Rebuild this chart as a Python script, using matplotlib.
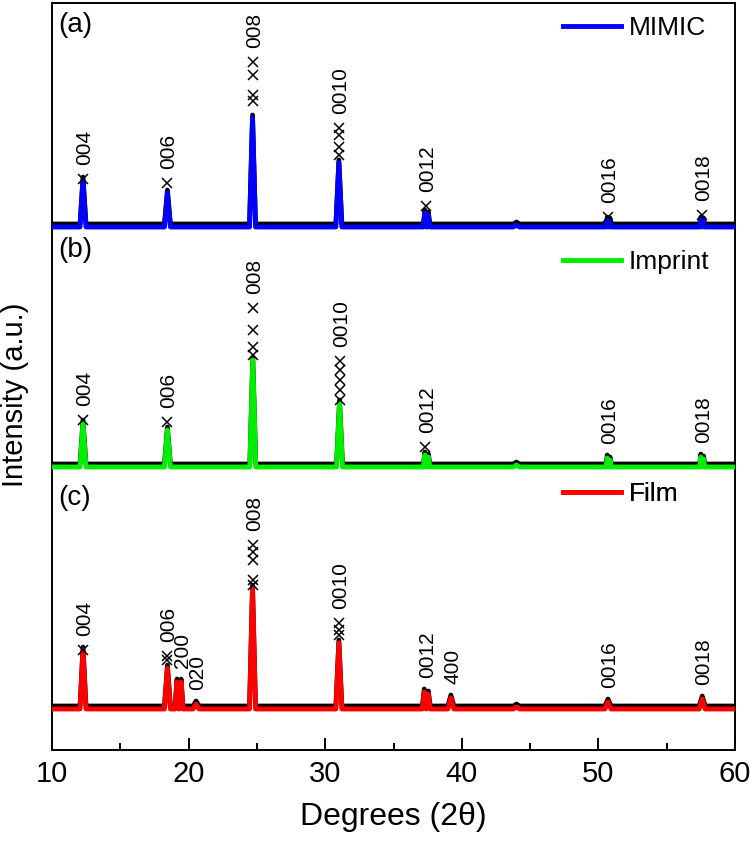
import matplotlib.pyplot as plt

plt.rcParams['font.family'] = ['Liberation Sans', 'DejaVu Sans']

display_graph = False

# sample names, panel tags, fit colours and vertical offsets (a.u.)
samples = ['MIMIC', 'Imprint', 'Film']
panel_tags = ['(a)', '(b)', '(c)']
fit_colors = ['#0000ff', '#00ee00', '#ff0000']
offsets = [523, 283, 41]

# peak positions (2theta) and fitted heights above the offset
mimic_pos = [12.27, 18.45, 24.68, 31.0, 37.3, 37.55, 44.0, 50.65, 50.85, 57.5, 57.7]
mimic_fit = [47, 34, 109, 64, 14, 12, 2, 7, 6, 7, 6]
imprint_pos = [12.27, 18.45, 24.7, 31.05, 37.3, 37.55, 44.0, 50.65, 50.85, 57.5, 57.7]
imprint_fit = [44, 37, 107, 64, 12, 10, 2, 9, 7, 10, 8]
film_pos = [12.27, 18.45, 19.15, 19.45, 20.55, 24.68, 31.0, 37.25, 37.55, 39.2, 44.0, 50.7, 57.6]
film_fit = [59, 41, 27, 27, 5, 121, 66, 17, 15, 11, 2, 7, 10]

# measured points sticking out above the fit (x markers)
mimic_obs_x = [12.27, 18.45, 24.68, 24.68, 24.68, 24.7, 31.0, 31.0, 31.0, 31.0, 37.35, 50.7, 57.55]
mimic_obs_y = [48, 44, 165, 152, 132, 126, 99, 92, 80, 72, 21, 10, 12]
imprint_obs_x = [12.27, 18.45, 24.7, 24.7, 24.7, 24.7, 31.05, 31.05, 31.05, 31.05, 31.05, 37.3]
imprint_obs_y = [47, 45, 112, 120, 137, 159, 67, 77, 87, 97, 106, 20]
film_obs_x = [12.27, 18.45, 18.45, 24.68, 24.68, 24.68, 24.68, 24.68, 31.0, 31.0, 31.0]
film_obs_y = [59, 49, 53, 124, 129, 149, 157, 164, 74, 79, 86]

# reflection labels
mimic_hkl = ['004', '006', '008', '0010', '0012', '0016', '0018']
mimic_hkl_pos = [12.27, 18.45, 24.68, 31.0, 37.4, 50.7, 57.6]
imprint_hkl = ['004', '006', '008', '0010', '0012', '0016', '0018']
imprint_hkl_pos = [12.27, 18.45, 24.7, 31.05, 37.4, 50.7, 57.6]
film_hkl = ['004', '006', '200', '020', '008', '0010', '0012', '400', '0016', '0018']
film_hkl_pos = [12.27, 18.45, 19.45, 20.55, 24.68, 31.0, 37.4, 39.2, 50.7, 57.6]

all_pos = [mimic_pos, imprint_pos, film_pos]
all_fit = [mimic_fit, imprint_fit, film_fit]
all_obs_x = [mimic_obs_x, imprint_obs_x, film_obs_x]
all_obs_y = [mimic_obs_y, imprint_obs_y, film_obs_y]
all_hkl = [mimic_hkl, imprint_hkl, film_hkl]
all_hkl_pos = [mimic_hkl_pos, imprint_hkl_pos, film_hkl_pos]


def peak_outline(pos, heights, offset, half_width=0.22):
    # polyline through baseline / top / baseline for each peak
    xs = [10.0]
    ys = [offset]
    for i, (p, h) in enumerate(zip(pos, heights)):
        w = half_width
        if i > 0:
            w = min(w, (p - pos[i - 1]) / 2 - 0.01)
        if i < len(pos) - 1:
            w = min(w, (pos[i + 1] - p) / 2 - 0.01)
        xs += [p - w, p, p + w]
        ys += [offset, offset + h, offset]
    xs.append(60.0)
    ys.append(offset)
    return xs, ys


fig = plt.figure(figsize=(7.5, 8.44), dpi=100)
ax = fig.add_axes([52 / 750, 94 / 844, 683 / 750, 747 / 844])

legend_y = [0.9665, 0.6533, 0.3427]
tag_y = [0.9705, 0.6693, 0.3373]

for k in range(3):
    off = offsets[k]
    xs, ys = peak_outline(all_pos[k], all_fit[k], off)
    ax.plot(xs, [y + 3 for y in ys], color='black', lw=3.4, zorder=2)
    line, = ax.plot(xs, ys, color=fit_colors[k], lw=3.5, zorder=3)
    ax.plot(all_obs_x[k], [off + y for y in all_obs_y[k]], 'x', color='black',
            ms=7, mew=1.1, zorder=4)

    for lab, p in zip(all_hkl[k], all_hkl_pos[k]):
        tops = [h for q, h in zip(all_pos[k], all_fit[k]) if abs(q - p) < 0.3]
        tops += [h for q, h in zip(all_obs_x[k], all_obs_y[k]) if abs(q - p) < 0.3]
        top = max(tops) if tops else 0
        ax.text(p + 0.12, off + top + 14, lab, rotation=90, ha='center', va='bottom',
                fontsize=15)

    leg = ax.legend([line], [samples[k]], loc='center left',
                    bbox_to_anchor=(0.748, legend_y[k]), frameon=False,
                    fontsize=19, handlelength=2.2, handletextpad=0.3,
                    borderpad=0, borderaxespad=0)
    ax.add_artist(leg)
    ax.text(0.009, tag_y[k], panel_tags[k], transform=ax.transAxes,
            ha='left', va='center', fontsize=20)

ax.set_xlim(10, 60)
ax.set_ylim(0, 747)
ax.set_xticks([10, 20, 30, 40, 50, 60])
ax.set_xticks([15, 25, 35, 45, 55], minor=True)
ax.set_yticks([])
ax.tick_params(axis='x', which='major', direction='in', length=9, width=1.4,
               labelsize=21, pad=7)
ax.tick_params(axis='x', which='minor', direction='in', length=5, width=1.4)
for s in ax.spines.values():
    s.set_linewidth(1.4)

ax.set_xlabel('Degrees (2\u03b8)', fontsize=23, labelpad=10)
ax.set_ylabel('Intensity (a.u.)', fontsize=21)
ax.yaxis.set_label_coords(-0.033, 0.475)

if display_graph:
    plt.show()
else:
    plt.savefig('out.png', dpi=100)
